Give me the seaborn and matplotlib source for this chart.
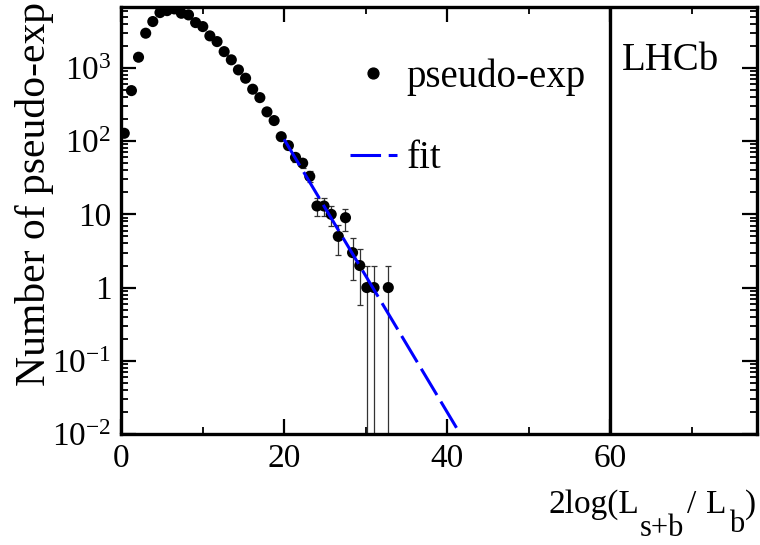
import numpy as np
import pandas as pd
import matplotlib
matplotlib.use("Agg")
import matplotlib.pyplot as plt
import seaborn as sns
from matplotlib.lines import Line2D
from matplotlib.ticker import FixedLocator, FixedFormatter, MultipleLocator, LogLocator, NullFormatter

# ---------------- data ----------------
bin_centers = [0.40, 1.28, 2.15, 3.03, 3.90, 4.78, 5.65, 6.53, 7.40, 8.28,
               9.15, 10.03, 10.90, 11.78, 12.65, 13.53, 14.40, 15.28, 16.15, 17.03,
               17.90, 18.78, 19.65, 20.53, 21.40, 22.28, 23.15, 24.03, 24.90, 25.78,
               26.65, 27.53, 28.40, 29.28, 30.15, 31.03, 32.78]
counts = [128, 490, 1400, 2980, 4300, 5700, 6060, 6400, 5580, 5300,
          4160, 3670, 2740, 2290, 1670, 1290, 940, 723, 512, 393,
          251, 191, 115, 87, 60, 50, 33, 13, 13, 10,
          5, 9, 3, 2, 1, 1, 1]
fit_x = [20.0, 41.6]
fit_y = [106.0, 0.01]
cut_value = 60
x_ticks = [0, 20, 40, 60]
x_tick_labels = ["0", "20", "40", "60"]
y_ticks = [1e-2, 1e-1, 1, 10, 1e2, 1e3]
y_tick_labels = [r"$\mathregular{10^{-2}}$", r"$\mathregular{10^{-1}}$", "1", "10",
                 r"$\mathregular{10^{2}}$", r"$\mathregular{10^{3}}$"]
legend_labels = ["pseudo-exp", "fit"]

# ---------------- style ----------------
sns.set_theme(style="ticks")
plt.rcParams["font.family"] = ["Liberation Serif", "DejaVu Serif"]
plt.rcParams["mathtext.fontset"] = "custom"
plt.rcParams["mathtext.rm"] = "Liberation Serif"
plt.rcParams["mathtext.it"] = "Liberation Serif:italic"
plt.rcParams["mathtext.bf"] = "Liberation Serif:bold"
for key in ["text.color", "axes.labelcolor", "xtick.color", "ytick.color", "axes.edgecolor"]:
    plt.rcParams[key] = "black"

fig = plt.figure(figsize=(7.6, 5.45), dpi=100)
ax = fig.add_axes([0.1592, 0.2037, 0.8369, 0.7835])
ax.set_yscale("log")

df = pd.DataFrame({"x": bin_centers, "n": counts})
n = df["n"].to_numpy(dtype=float)
err = np.sqrt(n)
lower = np.where(n - err <= 0, n - 1e-6, err)

ax.errorbar(df["x"], n, yerr=[lower, err], fmt="none", ecolor="#333333",
            elinewidth=0.9, capsize=2.0, capthick=0.9, zorder=2)
sns.scatterplot(data=df, x="x", y="n", ax=ax, color="black", s=64,
                edgecolor="none", linewidth=0, zorder=3, legend=False)

n_before = len(ax.lines)
sns.lineplot(x=fit_x, y=fit_y, ax=ax, color="blue", linewidth=2.2, zorder=4)
for ln in ax.lines[n_before:]:
    ln.set_dashes((10, 2.5))

ax.axvline(cut_value, color="black", linewidth=2.4, zorder=1)

ax.set_xlim(0, 78)
ax.set_ylim(0.01, 6800)

ax.xaxis.set_major_locator(FixedLocator(x_ticks))
ax.xaxis.set_major_formatter(FixedFormatter(x_tick_labels))
ax.xaxis.set_minor_locator(MultipleLocator(10))
ax.yaxis.set_major_locator(FixedLocator(y_ticks))
ax.yaxis.set_major_formatter(FixedFormatter(y_tick_labels))
ax.yaxis.set_minor_locator(LogLocator(base=10, subs=np.arange(2, 10), numticks=20))
ax.yaxis.set_minor_formatter(NullFormatter())

ax.tick_params(which="both", direction="in", top=True, right=True, colors="black")
ax.tick_params(which="major", length=10.8, width=1.6, labelsize=24)
ax.tick_params(which="minor", length=5.0, width=1.3)
ax.tick_params(axis="x", which="major", pad=7)
ax.tick_params(axis="y", which="major", pad=7)

for sp in ax.spines.values():
    sp.set_linewidth(2.4)
    sp.set_color("black")
    sp.set_visible(True)

ax.set_ylabel("Number of pseudo-exp", fontsize=30, loc="top", color="black")
ax.yaxis.set_label_coords(-0.106, 1.012)
ax.set_xlabel("")

# x-axis title written ROOT-style (full-size, well-lowered subscripts)
fig.text(548 / 760, (545 - 513) / 545, "2log(L", fontsize=24, ha="left", va="baseline")
fig.text(640 / 760, (545 - 536) / 545, "s+b", fontsize=22, ha="left", va="baseline")
fig.text(687 / 760, (545 - 513) / 545, "/", fontsize=24, ha="left", va="baseline")
fig.text(706 / 760, (545 - 513) / 545, "L", fontsize=24, ha="left", va="baseline")
fig.text(729 / 760, (545 - 532) / 545, "b", fontsize=22, ha="left", va="baseline")
fig.text(745 / 760, (545 - 513) / 545, ")", fontsize=24, ha="left", va="baseline")

handles = [Line2D([], [], marker="o", color="black", linestyle="none", markersize=7.8),
           Line2D([], [], color="blue", linewidth=2.2, dashes=(10, 2.5))]
ax.legend(handles, legend_labels, loc="upper left", bbox_to_anchor=(0.360, 0.880),
          frameon=False, fontsize=28, handlelength=1.2, handletextpad=0.26,
          labelspacing=1.15, borderpad=0, borderaxespad=0)

ax.text(0.788, 0.852, "LHCb", transform=ax.transAxes, fontsize=28,
        va="baseline", ha="left")

fig.savefig("out.png", dpi=100)
